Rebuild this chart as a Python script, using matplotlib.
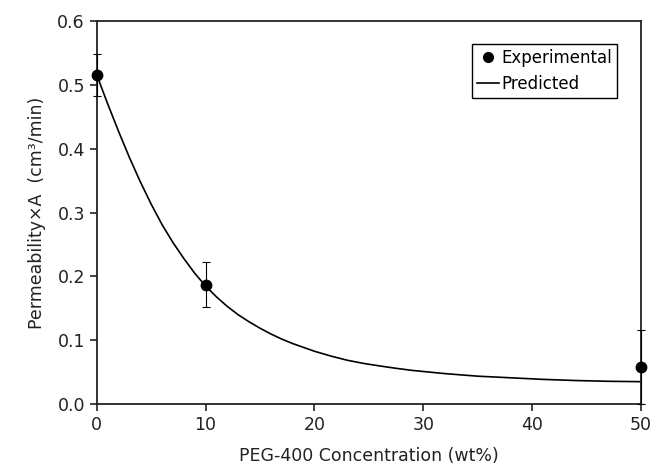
import matplotlib
matplotlib.use("Agg")
import matplotlib.pyplot as plt
from matplotlib.lines import Line2D

# Experimental data
exp_x = [0, 10, 50]
exp_y = [0.515, 0.186, 0.058]
err_low = [0.033, 0.034, 0.058]
err_high = [0.033, 0.036, 0.059]

# Predicted curve
pred_x = [0, 1, 2, 3, 4, 5, 6, 7, 8, 9, 10, 11, 12, 13, 14, 15, 16, 17, 18, 19, 20,
          21.5, 23, 24.5, 26, 27.5, 29, 32, 35, 38, 41, 44, 47, 50]
pred_y = [0.515, 0.470, 0.427, 0.386, 0.348, 0.313, 0.281, 0.253, 0.228, 0.205, 0.185,
          0.168, 0.153, 0.140, 0.129, 0.119, 0.110, 0.102, 0.095, 0.089, 0.083,
          0.0755, 0.069, 0.064, 0.060, 0.0563, 0.053, 0.048, 0.044, 0.0415, 0.039,
          0.0372, 0.036, 0.0354]

x_ticks = [0, 10, 20, 30, 40, 50]
y_ticks = [0.0, 0.1, 0.2, 0.3, 0.4, 0.5, 0.6]

plt.rcParams['font.family'] = ['DejaVu Sans']
fig = plt.figure(figsize=(6.54, 4.71), dpi=100)
ax = fig.add_axes([0.148, 0.1416, 0.832, 0.8144])

ax.plot(pred_x, pred_y, color='black', lw=1.2, zorder=2,
        solid_joinstyle='round', solid_capstyle='round')
eb = ax.errorbar(exp_x, exp_y, yerr=[err_low, err_high], fmt='o', color='black',
                 ms=7.5, elinewidth=0.8, capsize=3, capthick=0.8, zorder=3)
for artist in [eb[0]] + list(eb[1]) + list(eb[2]):
    artist.set_clip_on(False)

ax.set_xlim(0, 50)
ax.set_ylim(0, 0.6)
ax.set_xticks(x_ticks)
ax.set_yticks(y_ticks)
ax.set_xticklabels([str(v) for v in x_ticks])
ax.set_yticklabels([f"{v:.1f}" for v in y_ticks])
ax.tick_params(direction='out', length=5, width=1.2, labelsize=12.5, colors='#222222')
for s in ax.spines.values():
    s.set_linewidth(1.3)
    s.set_color('#222222')

ax.set_xlabel('PEG-400 Concentration (wt%)', fontsize=12.5, labelpad=9, color='#222222')
ax.set_ylabel('Permeability×A  (cm³/min)', fontsize=12.5, labelpad=8, color='#222222')

handles = [Line2D([], [], marker='o', ls='none', color='black', ms=7),
           Line2D([], [], color='black', lw=1.2)]
leg = ax.legend(handles=handles, labels=['Experimental', 'Predicted'],
                loc='upper right', bbox_to_anchor=(0.956, 0.939), fontsize=12,
                frameon=True, fancybox=False, edgecolor='black', framealpha=1,
                handlelength=1.3, handletextpad=0.15, borderpad=0.3, labelspacing=0.45,
                borderaxespad=0)
leg.get_frame().set_linewidth(1.0)

fig.savefig('out.png', dpi=100)
